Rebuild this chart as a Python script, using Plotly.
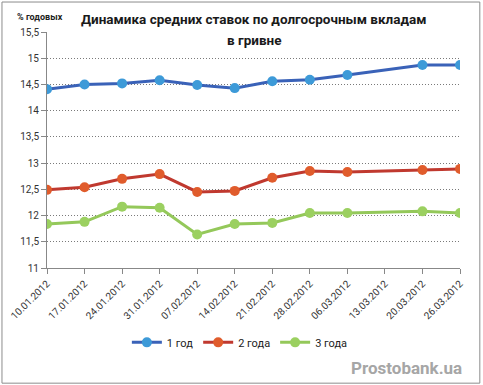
import plotly.graph_objects as go

dates = ["10.01.2012", "17.01.2012", "24.01.2012", "31.01.2012", "07.02.2012", "14.02.2012",
         "21.02.2012", "28.02.2012", "06.03.2012", "13.03.2012", "20.03.2012", "26.03.2012"]
y1 = [14.41, 14.50, 14.52, 14.58, 14.49, 14.43, 14.56, 14.59, 14.68, None, 14.87, 14.87]
y2 = [12.49, 12.54, 12.70, 12.79, 12.45, 12.47, 12.72, 12.85, 12.83, None, 12.87, 12.89]
y3 = [11.84, 11.88, 12.17, 12.15, 11.64, 11.84, 11.86, 12.05, 12.05, None, 12.08, 12.05]
names = ["1 год", "2 года", "3 года"]
line_colors = ["#3a62b8", "#c0392f", "#94c85a"]
marker_colors = ["#3d9ad8", "#e05c2c", "#9bd060"]

FONT = "Roboto"

fig = go.Figure()
for ys, nm, lc, mc in zip([y1, y2, y3], names, line_colors, marker_colors):
    fig.add_trace(go.Scatter(
        x=dates, y=ys, name=nm, mode="lines+markers", connectgaps=True,
        line=dict(color=lc, width=3),
        marker=dict(color=mc, size=10, line=dict(width=0)),
    ))

fig.update_layout(
    width=483, height=385,
    margin=dict(l=47, r=23, t=32, b=117, autoexpand=False),
    paper_bgcolor="white", plot_bgcolor="white",
    separators=", ",
    font=dict(family=FONT, size=10, color="#333333"),
    showlegend=True,
    legend=dict(orientation="h", x=0.467, xanchor="center", y=-0.315, yanchor="middle",
                font=dict(size=11, color="#222222"), itemwidth=30, tracegroupgap=0),
    xaxis=dict(type="category", range=[0, 11], tickangle=-45, showgrid=False,
               automargin=False,
               showline=True, linecolor="#888888", linewidth=1,
               ticks="outside", ticklen=5, tickcolor="#888888",
               tickfont=dict(size=10, color="#333333")),
    yaxis=dict(range=[11, 15.5], dtick=0.5, showgrid=True, gridcolor="#7a7a7a",
               automargin=False,
               griddash="1px,2px", gridwidth=1, zeroline=False,
               showline=True, linecolor="#888888", linewidth=1,
               ticks="outside", ticklen=5, tickcolor="#888888",
               tickfont=dict(size=10, color="#333333")),
    shapes=[dict(type="rect", xref="paper", yref="paper", x0=-0.109, x1=1.048, y0=-0.488, y1=1.127,
                 line=dict(color="#8c8c8c", width=1))],
    annotations=[
        dict(text="<b>Динамика средних ставок по долгосрочным вкладам</b>", xref="paper", yref="paper",
             x=0.5, y=1.057, xanchor="center", yanchor="middle", showarrow=False,
             font=dict(size=13.5, color="#1a1a1a")),
        dict(text="<b>в гривне</b>", xref="paper", yref="paper",
             x=0.5, y=0.966, xanchor="center", yanchor="middle", showarrow=False,
             font=dict(size=13.5, color="#1a1a1a")),
        dict(text="<b>% годовых</b>", xref="paper", yref="paper", x=-0.078, y=1.063,
             xanchor="left", yanchor="middle", showarrow=False,
             font=dict(size=9, color="#222222")),
        dict(text="<b>Prostobank.ua</b>", xref="paper", yref="paper", x=1.01, y=-0.425,
             xanchor="right", yanchor="middle", showarrow=False,
             font=dict(size=17, color="#a6a6a6")),
    ],
)

fig.write_html("out.html", config={"displayModeBar": False},
               post_script="document.body.style.margin='0px';")
